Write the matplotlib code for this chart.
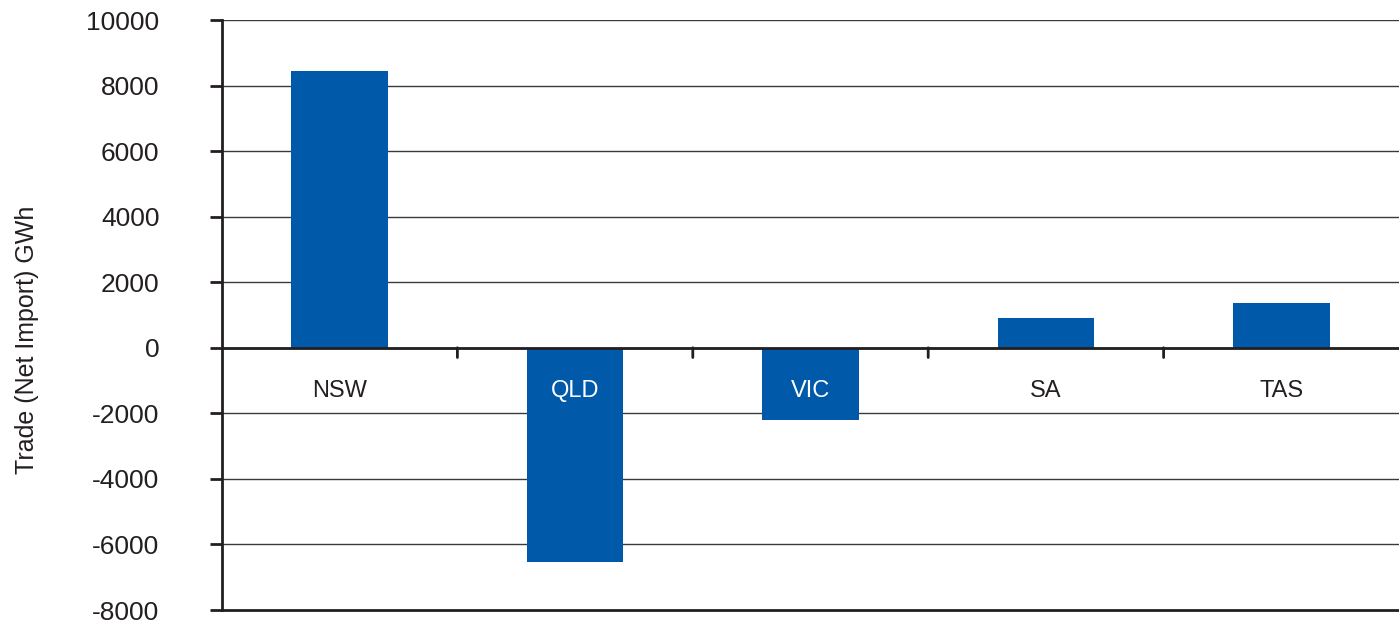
import matplotlib
matplotlib.use("Agg")
import matplotlib.pyplot as plt
import numpy as np

regions = ["NSW", "QLD", "VIC", "SA", "TAS"]
net_trade = [8450, -6550, -2200, 900, 1370]
y_ticks = [-8000, -6000, -4000, -2000, 0, 2000, 4000, 6000, 8000, 10000]

bar_color = "#0059A9"
ink = "#231f20"

plt.rcParams['font.family'] = ['Liberation Sans Narrow', 'Liberation Sans', 'DejaVu Sans']

fig = plt.figure(figsize=(13.99, 6.23), dpi=100)
ax = fig.add_axes([222 / 1399, 1 - 610 / 623, 1 - 222 / 1399, (610 - 20) / 623])

x = np.arange(len(regions))
ax.bar(x, net_trade, width=0.41, color=bar_color, zorder=3)

ax.set_xlim(-0.5, len(regions) - 0.5)
ax.set_ylim(y_ticks[0], y_ticks[-1])
ax.set_yticks(y_ticks)
ax.set_yticklabels([str(t) for t in y_ticks], fontsize=19, color=ink)
ax.set_xticks([])

# horizontal gridlines
for t in y_ticks[1:]:
    ax.axhline(t, color="#3a3a3a", lw=1.0, zorder=1)
ax.axhline(0, color=ink, lw=2.0, zorder=4)

# category separator ticks on the zero line
for b in x[:-1] + 0.5:
    ax.annotate("", xy=(b, 0), xytext=(0, -7), textcoords="offset points",
                arrowprops=dict(arrowstyle="-", color=ink, lw=2.0,
                                shrinkA=0, shrinkB=0))

# category labels just below the zero line
for xi, name, v in zip(x, regions, net_trade):
    c = "white" if v < -1500 else ink
    ax.annotate(name, xy=(xi, 0), xytext=(0, -31), textcoords="offset points",
                ha="center", va="center", fontsize=17, color=c, zorder=5)

for s in ["top", "right"]:
    ax.spines[s].set_visible(False)
ax.spines["left"].set_linewidth(2.0)
ax.spines["left"].set_color(ink)
ax.spines["bottom"].set_linewidth(2.0)
ax.spines["bottom"].set_color(ink)
ax.tick_params(axis="y", direction="out", length=9, width=2, color=ink, pad=36)

fig.text(27 / 1399, 1 - 340 / 623, "Trade (Net Import) GWh", rotation=90,
         ha="center", va="center", fontsize=18, color=ink)

fig.savefig("out.png", dpi=100)
